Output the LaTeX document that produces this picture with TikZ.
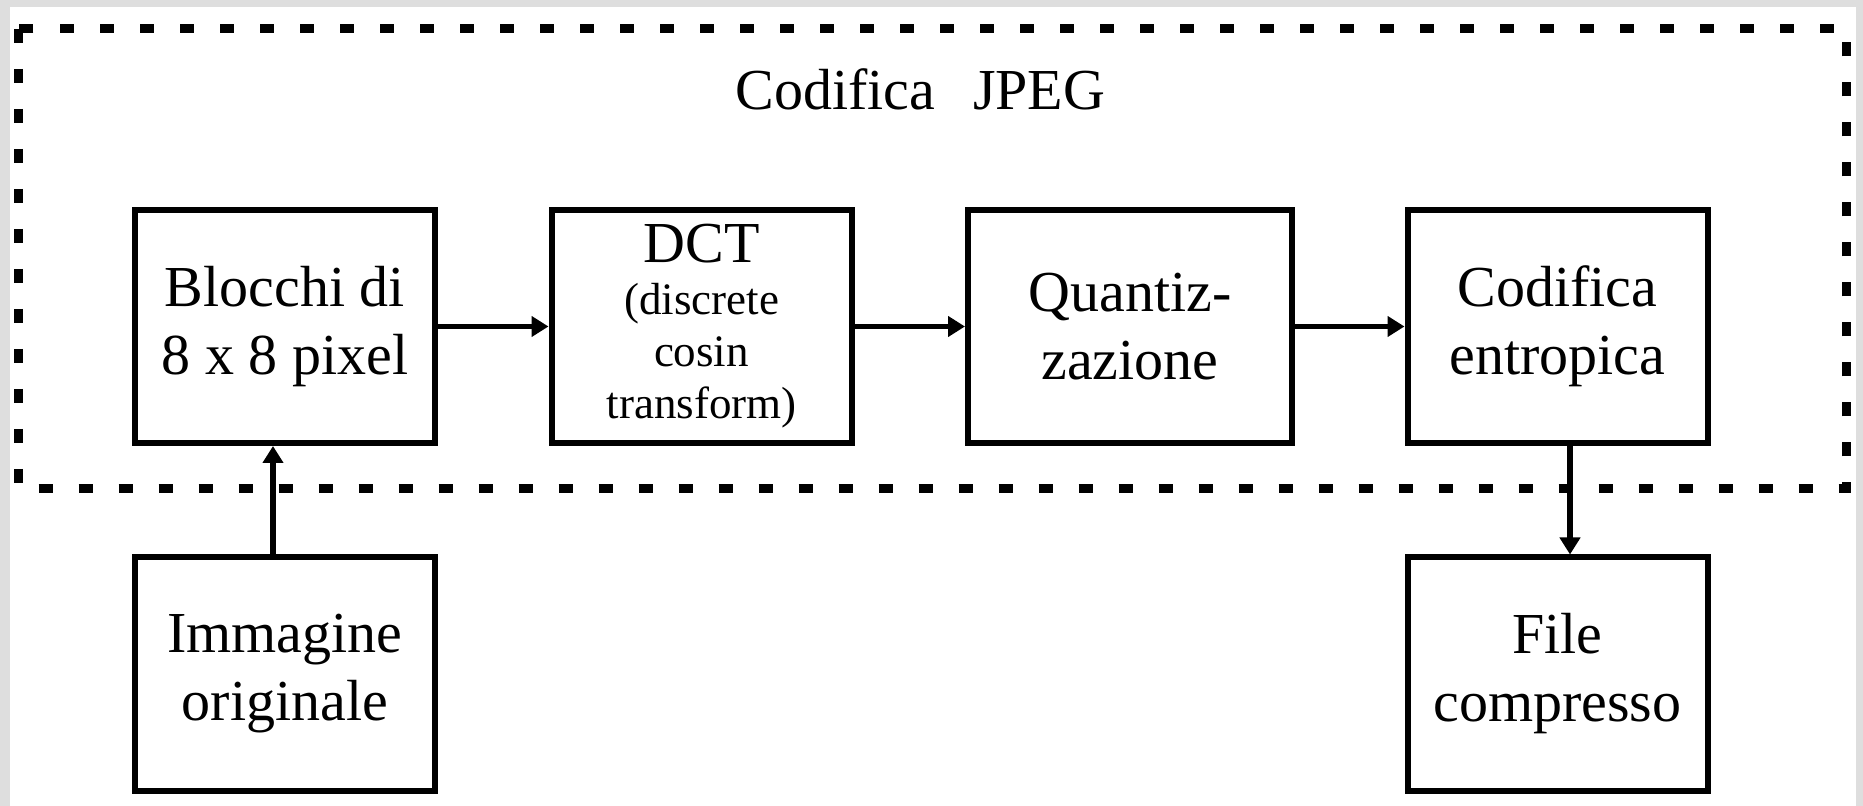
\documentclass[tikz,border=0pt]{standalone}
\usepackage{fontspec}
\setmainfont{Liberation Serif}
\usetikzlibrary{arrows.meta}
\definecolor{framegray}{HTML}{DEDEDE}
\begin{document}
\begin{tikzpicture}[x=0.5pt,y=-0.5pt,
  blk/.style={draw=black, line width=3pt, fill=white, align=center, inner sep=0pt,
    minimum width=150pt, minimum height=116.5pt, font=\fontsize{29}{34}\selectfont},
  conn/.style={line width=2.75pt, -{Triangle[length=8.5pt,width=10pt]}},
  dashframe/.style={draw=black, line width=4.5pt, dash pattern=on 7pt off 13pt}
]
\fill[framegray] (0,0) rectangle (1863,806);
\fill[white] (10,7) rectangle (1856,806);
\draw[dashframe] (18.5,29) rectangle (1846,489);
\node[anchor=base west, inner sep=0pt, font=\fontsize{29}{34}\selectfont] (title) at (735,110) {Codifica\hspace{19pt}JPEG};
\node[blk] (blocchi) at (285,326.5) {Blocchi di\\8 x 8 pixel};
\node[blk, font=\fontsize{22.5}{26}\selectfont] (dct) at (701.5,326.5) {{\fontsize{29}{34}\selectfont DCT}\\(discrete\\cosin\\transform)};
\node[blk, minimum width=162pt] (quant) at (1130,326.5) {Quantiz-\\zazione};
\node[blk] (entrop) at (1557.5,326.5) {Codifica\\entropica};
\node[blk] (img) at (285,674) {Immagine\\originale};
\node[blk] (file) at (1557.5,674) {File\\compresso};
\draw[conn] (blocchi) -- (dct);
\draw[conn] (dct) -- (quant);
\draw[conn] (quant) -- (entrop);
\draw[conn] ([xshift=-6pt]img.north) -- ([xshift=-6pt]blocchi.south);
\draw[conn] ([xshift=6.25pt]entrop.south) -- ([xshift=6.25pt]file.north);
\end{tikzpicture}
\end{document}
